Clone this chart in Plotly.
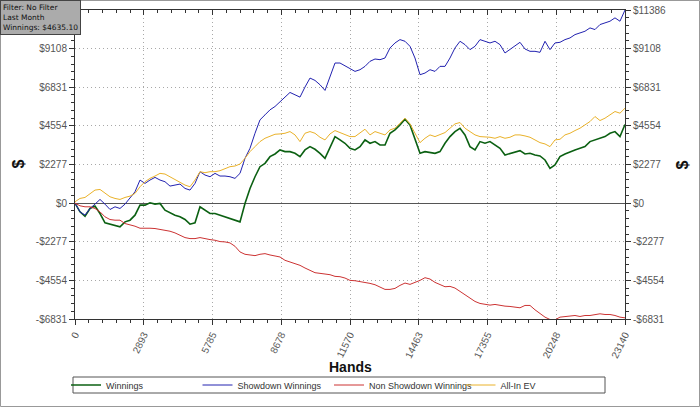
import plotly.graph_objects as go

# ---------------- data ----------------
hands = [0, 210, 421, 631, 841, 1052, 1262, 1473, 1683, 1893, 2104, 2314, 2524, 2735, 2945, 3155,
         3366, 3576, 3786, 3997, 4207, 4418, 4628, 4838, 5049, 5259, 5469, 5680, 5890, 6100, 6311,
         6521, 6731, 6942, 7152, 7363, 7573, 7783, 7994, 8204, 8414, 8625, 8835, 9045, 9256, 9466,
         9676, 9887, 10097, 10308, 10518, 10728, 10939, 11149, 11359, 11570, 11780, 11991, 12201,
         12411, 12622, 12832, 13042, 13253, 13463, 13673, 13884, 14094, 14304, 14515, 14725, 14936,
         15146, 15356, 15567, 15777, 15987, 16198, 16408, 16618, 16829, 17039, 17249, 17460, 17670,
         17881, 18091, 18301, 18512, 18722, 18932, 19143, 19353, 19563, 19774, 19984, 20194, 20405,
         20615, 20825, 21036, 21246, 21456, 21667, 21877, 22087, 22298, 22508, 22718, 22929, 23140]

winnings = [0, -513, -769, -315, -177, -611, -1163, -1242, -1301, -1400, -1104, -1005, -710, -118,
            -118, 20, -59, -20, -414, -572, -710, -808, -966, -1242, -1163, -217, -414, -611, -611,
            -710, -808, -907, -966, -1104, -20, 867, 1557, 2149, 2346, 2740, 2898, 3135, 3036, 3036,
            2937, 2740, 3135, 3332, 3174, 2937, 2642, 3332, 3923, 3726, 3529, 3233, 3135, 3332, 3726,
            3529, 3627, 3430, 3430, 4120, 4317, 4613, 4948, 4613, 3726, 2937, 3036, 2977, 2937, 3036,
            3529, 3923, 4219, 4416, 4022, 3332, 3135, 3627, 3529, 3627, 3430, 3233, 2839, 2937, 3036,
            3095, 2898, 2937, 2839, 2780, 2543, 2050, 2247, 2740, 2898, 3036, 3135, 3233, 3332, 3627,
            3726, 3824, 3923, 4120, 4219, 3923, 4635]

showdown = [0, -513, -710, -315, -59, 217, -59, -375, -217, -315, -59, 335, 670, 1360, 1163, 1360,
            1518, 1360, 1262, 1005, 1065, 1124, 867, 769, 1163, 1853, 1656, 1557, 1755, 1597, 1597,
            1557, 1459, 1755, 2642, 3233, 4120, 4909, 5204, 5500, 5697, 5993, 6249, 6525, 6387, 6249,
            6841, 7373, 7235, 6979, 6644, 7472, 8260, 8260, 8102, 7964, 7767, 7866, 8063, 8359, 8497,
            8457, 8556, 9147, 9443, 9640, 9542, 9246, 8556, 7570, 7669, 7866, 7767, 8063, 8063, 8556,
            9147, 9542, 9344, 9049, 9246, 9640, 9542, 9443, 9542, 9344, 8852, 9049, 9246, 9482, 9088,
            8950, 8950, 8891, 9542, 9049, 9443, 9482, 9640, 9739, 9936, 10034, 10133, 10330, 10232,
            10527, 10626, 10724, 10922, 10724, 11386]

non_showdown = [0, -158, -217, -217, -315, -513, -808, -966, -1005, -1005, -1203, -1262, -1360,
                -1479, -1459, -1479, -1498, -1538, -1597, -1656, -1755, -1893, -2031, -2090, -2090,
                -2031, -2109, -2149, -2188, -2267, -2287, -2346, -2543, -2878, -3016, -3075, -3095,
                -3016, -2977, -3056, -3135, -3174, -3371, -3470, -3529, -3667, -3824, -3963, -4101,
                -4140, -4160, -4219, -4317, -4337, -4416, -4554, -4574, -4613, -4672, -4731, -4810,
                -4948, -5086, -5086, -5027, -4850, -4712, -4790, -4692, -4554, -4396, -4475, -4672,
                -4810, -4929, -4909, -5007, -5204, -5402, -5599, -5796, -5914, -5973, -6013, -5973,
                -6032, -6072, -6092, -6151, -6170, -6032, -6032, -6289, -6525, -6722, -6860, -6880,
                -6722, -6683, -6683, -6624, -6683, -6624, -6624, -6565, -6525, -6565, -6565, -6624,
                -6722, -6762]

all_in_ev = [80, 276, 335, 572, 769, 808, 572, 375, 276, 217, 335, 414, 572, 966, 1262, 1459, 1597,
             1755, 1715, 1557, 1360, 1203, 1065, 966, 1360, 1853, 1794, 1853, 1853, 1912, 2050, 2149,
             2188, 2307, 2642, 3036, 3332, 3627, 3824, 3963, 4061, 4081, 4120, 4219, 4022, 3627, 4120,
             4219, 4120, 3884, 3726, 4081, 4278, 4160, 4022, 3923, 3923, 4120, 4357, 4022, 4219, 4120,
             4022, 4317, 4416, 4712, 5007, 4672, 4160, 3568, 3824, 4022, 3923, 4022, 4160, 4416, 4672,
             4751, 4416, 4219, 4022, 3923, 3923, 3884, 3824, 3923, 3824, 3884, 4022, 4022, 3963, 3884,
             3726, 3568, 3489, 3332, 3726, 3765, 4022, 4120, 4278, 4416, 4613, 4810, 5106, 4869, 5007,
             5204, 5402, 5303, 5599]

x_tick_vals = [0, 2893, 5785, 8678, 11570, 14463, 17355, 20248, 23140]
y_tick_vals = [-6831, -4554, -2277, 0, 2277, 4554, 6831, 9108, 11386]
y_tick_text = ["-$6831", "-$4554", "-$2277", "$0", "$2277", "$4554", "$6831", "$9108", "$11386"]

series_names = ["Winnings", "Showdown Winnings", "Non Showdown Winnings", "All-In EV"]
series_colors = ["#0b6012", "#2222b0", "#cc3333", "#eab22a"]
series_widths = [1.6, 1, 1, 1]

# ---------------- figure ----------------
W, H = 700, 407
ML, MR, MT, MB = 75, 75, 10, 88
PW, PH = W - ML - MR, H - MT - MB


def px_x(px):
    return (px - ML) / PW


def px_y(py):
    return (H - MB - py) / PH


fig = go.Figure()
for name, ys, col, w in zip(series_names, [winnings, showdown, non_showdown, all_in_ev],
                            series_colors, series_widths):
    fig.add_trace(go.Scatter(x=hands, y=ys, name=name, mode="lines",
                             line=dict(color=col, width=w), hoverinfo="skip"))

# invisible trace to activate the mirrored (top / right) axes
fig.add_trace(go.Scatter(x=hands, y=winnings, xaxis="x2", yaxis="y2", mode="lines",
                         line=dict(width=0, color="rgba(0,0,0,0)"), showlegend=False,
                         hoverinfo="skip"))

tick_font = dict(family="Liberation Sans, Arial, sans-serif", size=10, color="#555")
axis_col = "#333"
grid = dict(showgrid=True, gridcolor="#a8a8a8", griddash="1px,3px", gridwidth=1)
x_rng = [x_tick_vals[0], x_tick_vals[-1]]
y_rng = [y_tick_vals[0], y_tick_vals[-1]]
x_minor = (x_tick_vals[-1] - x_tick_vals[0]) / 40
y_minor = 2277 / 5

fig.update_layout(
    width=W, height=H, autosize=False,
    margin=dict(l=ML, r=MR, t=MT, b=MB, autoexpand=False),
    paper_bgcolor="white", plot_bgcolor="white",
    font=dict(family="Liberation Sans, Arial, sans-serif", color="#333"),
    xaxis=dict(range=x_rng, tickmode="array", tickvals=x_tick_vals, automargin=False,
               ticktext=[str(v) for v in x_tick_vals], tickangle=-64, tickfont=tick_font,
               ticks="outside", ticklen=5, tickcolor=axis_col, showline=True,
               linecolor=axis_col, linewidth=1, mirror=True, zeroline=False,
               minor=dict(tick0=0, dtick=x_minor, ticks="outside", ticklen=3,
                          tickcolor=axis_col, showgrid=False), **grid),
    yaxis=dict(range=y_rng, tickmode="array", tickvals=y_tick_vals, ticktext=y_tick_text,
               automargin=False,
               tickfont=tick_font, ticks="outside", ticklen=5, tickcolor=axis_col,
               showline=True, linecolor=axis_col, linewidth=1, mirror=True,
               zeroline=True, zerolinecolor="#555", zerolinewidth=1,
               minor=dict(tick0=0, dtick=y_minor, ticks="outside", ticklen=3,
                          tickcolor=axis_col, showgrid=False), **grid),
    xaxis2=dict(range=x_rng, overlaying="x", side="top", anchor="y", tickmode="array",
                automargin=False,
                tickvals=x_tick_vals, showticklabels=False, ticks="inside", ticklen=5,
                tickcolor=axis_col, showgrid=False, zeroline=False, showline=False,
                minor=dict(tick0=0, dtick=x_minor, ticks="inside", ticklen=3,
                           tickcolor=axis_col)),
    yaxis2=dict(range=y_rng, overlaying="y", side="right", anchor="x", tickmode="array",
                automargin=False,
                tickvals=y_tick_vals, ticktext=y_tick_text, tickfont=tick_font,
                ticks="outside", ticklen=5, tickcolor=axis_col, showgrid=False,
                zeroline=False, showline=False,
                minor=dict(tick0=0, dtick=y_minor, ticks="outside", ticklen=3,
                           tickcolor=axis_col)),
    showlegend=True,
    legend=dict(orientation="h", x=px_x(66), y=px_y(385), xanchor="left", yanchor="middle",
                bgcolor="rgba(0,0,0,0)", borderwidth=0,
                font=dict(family="Liberation Sans, Arial, sans-serif", size=9, color="#333"),
                entrywidth=86.5, entrywidthmode="pixels", itemwidth=30, tracegroupgap=0),
)

# legend frame (the box drawn behind the legend entries)
fig.add_shape(type="rect", xref="paper", yref="paper",
              x0=px_x(73), x1=px_x(605), y0=px_y(393), y1=px_y(377),
              line=dict(color="#555", width=1), fillcolor="white", layer="below")

# axis titles and info box as annotations
fig.add_annotation(text="<b>Hands</b>", xref="paper", yref="paper", x=0.5, y=px_y(367),
                   xanchor="center", yanchor="middle", showarrow=False,
                   font=dict(family="Liberation Sans, Arial, sans-serif", size=14, color="#111"))
for xpx in (18, 682):
    fig.add_annotation(text="<b>$</b>", xref="paper", yref="paper", x=px_x(xpx), y=0.5,
                       xanchor="center", yanchor="middle", showarrow=False, textangle=-90,
                       font=dict(family="Liberation Sans, Arial, sans-serif", size=16,
                                 color="#111"))
fig.add_annotation(text="Filter: No Filter<br>Last Month<br>Winnings: $4635.10",
                   xref="paper", yref="paper", x=px_x(0), y=px_y(0),
                   xanchor="left", yanchor="top", align="left", showarrow=False,
                   bgcolor="#ababab", bordercolor="#444", borderwidth=1, borderpad=2,
                   font=dict(family="DejaVu Sans, Verdana, sans-serif", size=7.5, color="#111"))

# thin grey frame around the whole picture
fig.add_shape(type="rect", xref="paper", yref="paper",
              x0=px_x(0.5), x1=px_x(W - 0.5), y0=px_y(H - 0.5), y1=px_y(0.5),
              line=dict(color="#999", width=1), fillcolor="rgba(0,0,0,0)", layer="below")

fig.write_html("out.html", post_script="document.body.style.margin='0';",
               config={"displayModeBar": False})
